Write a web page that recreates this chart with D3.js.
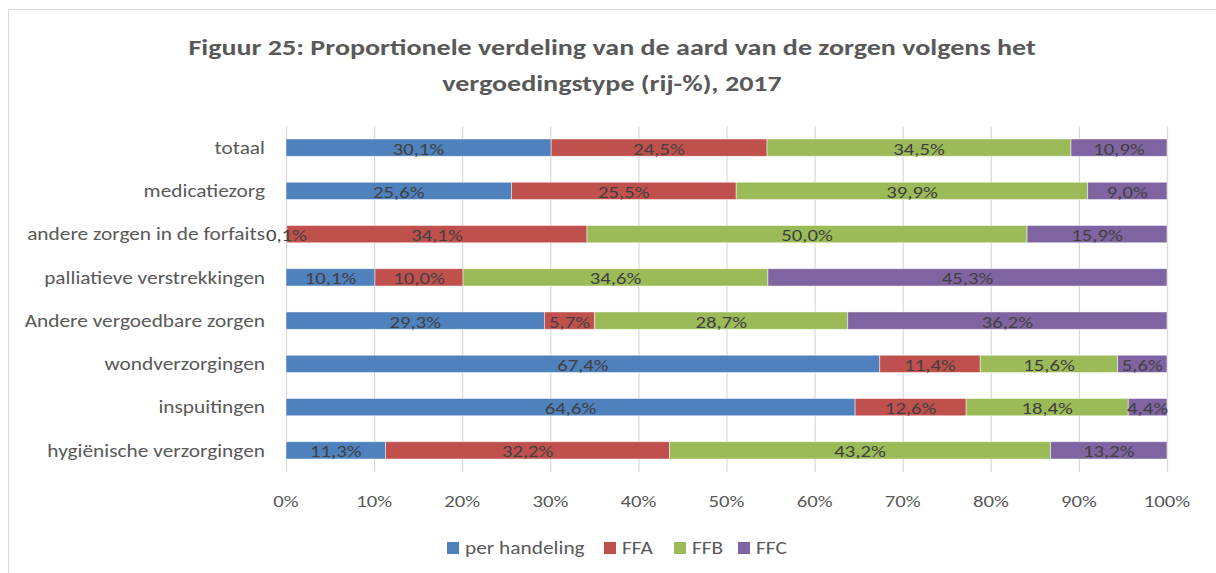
<!DOCTYPE html>
<html>
<head>
<meta charset="UTF-8">
<script src="https://cdn.jsdelivr.net/npm/d3@7"></script>
<style>
  body { margin: 0; background: #fff; }
  text { font-family: Carlito, Lato, "Open Sans", sans-serif; }
</style>
</head>
<body>
<svg width="1216" height="573"></svg>
<script>

var categories = ["totaal", "medicatiezorg", "andere zorgen in de forfaits", "palliatieve verstrekkingen",
  "Andere vergoedbare zorgen", "wondverzorgingen", "inspuitingen", "hygiënische verzorgingen"];
var seriesNames = ["per handeling", "FFA", "FFB", "FFC"];
var perHandeling = [30.1, 25.6, 0.1, 10.1, 29.3, 67.4, 64.6, 11.3];
var ffa = [24.5, 25.5, 34.1, 10.0, 5.7, 11.4, 12.6, 32.2];
var ffb = [34.5, 39.9, 50.0, 34.6, 28.7, 15.6, 18.4, 43.2];
var ffc = [10.9, 9.0, 15.9, 45.3, 36.2, 5.6, 4.4, 13.2];
var tickValues = [0, 0.1, 0.2, 0.3, 0.4, 0.5, 0.6, 0.7, 0.8, 0.9, 1];
var colors = ["#4F81BD", "#C0504D", "#9BBB59", "#8064A2"];

// the source text is a bit wider than the font, so stretch it horizontally
var SX = 1.22;

var svg = d3.select("svg"),
  margin = {top: 126, right: 49, bottom: 101, left: 286},
  width = +svg.attr("width") - margin.left - margin.right,
  height = +svg.attr("height") - margin.top - margin.bottom;

function label(sel, tx, ty) {
  var wrap = sel.append("g").attr("transform", "translate(" + tx + "," + ty + ") scale(" + SX + ",1)");
  return wrap.append("text").attr("dy", "0.35em");
}

// chart frame (only top and left edges are inside the picture)
svg.append("rect")
  .attr("x", 8.5).attr("y", 9.5)
  .attr("width", 1230).attr("height", 600)
  .attr("fill", "#fff")
  .attr("stroke", "#D9D9D9");

var g = svg.append("g").attr("transform", "translate(" + margin.left + "," + margin.top + ")");

var rows = categories.map(function(c, i) {
  var vals = [perHandeling[i], ffa[i], ffb[i], ffc[i]];
  var total = d3.sum(vals);
  var x0 = 0;
  return {
    cat: c,
    segs: vals.map(function(v, k) {
      var s = {v: v, k: k, x0: x0 / total, x1: (x0 + v) / total};
      x0 += v;
      return s;
    })
  };
});

var x = d3.scaleLinear().domain([0, 1]).range([0, width]);
var y = d3.scaleBand().domain(categories).range([0, height]).paddingInner(0.6).paddingOuter(0.3);

// gridlines
g.selectAll(".grid")
  .data(tickValues)
  .enter().append("line")
  .attr("x1", function(d) { return x(d) + 0.5; })
  .attr("x2", function(d) { return x(d) + 0.5; })
  .attr("y1", 0)
  .attr("y2", height)
  .attr("stroke", "#D9D9D9")
  .attr("stroke-width", 1.2);

rows.forEach(function(r) {
  var row = g.append("g").attr("transform", "translate(0," + y(r.cat) + ")");
  row.selectAll("rect")
    .data(r.segs)
    .enter().append("rect")
    .attr("x", function(d) { return x(d.x0); })
    .attr("width", function(d) { return x(d.x1) - x(d.x0); })
    .attr("height", y.bandwidth())
    .attr("fill", function(d) { return colors[d.k]; })
    .attr("stroke", "#fff")
    .attr("stroke-opacity", 0.6)
    .attr("stroke-width", 0.8);
  r.segs.forEach(function(d) {
    label(row, (x(d.x0) + x(d.x1)) / 2, y.bandwidth() / 2 + 1)
      .attr("text-anchor", "middle")
      .attr("font-size", 17)
      .attr("fill", "#404040")
      .text(d3.format(".1f")(d.v).replace(".", ",") + "%");
  });
});

// category axis labels
categories.forEach(function(c) {
  label(g, -21, y(c) + y.bandwidth() / 2)
    .attr("text-anchor", "end")
    .attr("font-size", 17.5)
    .attr("fill", "#595959")
    .text(c);
});

// x axis labels
var fmt = d3.format(".0%");
tickValues.forEach(function(t) {
  label(g, x(t), height + 29)
    .attr("text-anchor", "middle")
    .attr("font-size", 17)
    .attr("fill", "#595959")
    .text(fmt(t));
});

// title
label(svg, 612, 47)
  .attr("text-anchor", "middle")
  .attr("font-size", 23)
  .attr("font-weight", "bold")
  .attr("fill", "#595959")
  .text("Figuur 25: Proportionele verdeling van de aard van de zorgen volgens het");
label(svg, 612, 83)
  .attr("text-anchor", "middle")
  .attr("font-size", 23)
  .attr("font-weight", "bold")
  .attr("fill", "#595959")
  .text("vergoedingstype (rij-%), 2017");

// legend
var legendX = [447, 604, 674, 738];
seriesNames.forEach(function(s, i) {
  svg.append("rect")
    .attr("x", legendX[i]).attr("y", 542)
    .attr("width", 12).attr("height", 12)
    .attr("fill", colors[i]);
  label(svg, legendX[i] + 18, 548)
    .attr("font-size", 17.5)
    .attr("fill", "#595959")
    .text(s);
});

</script>
</body>
</html>
